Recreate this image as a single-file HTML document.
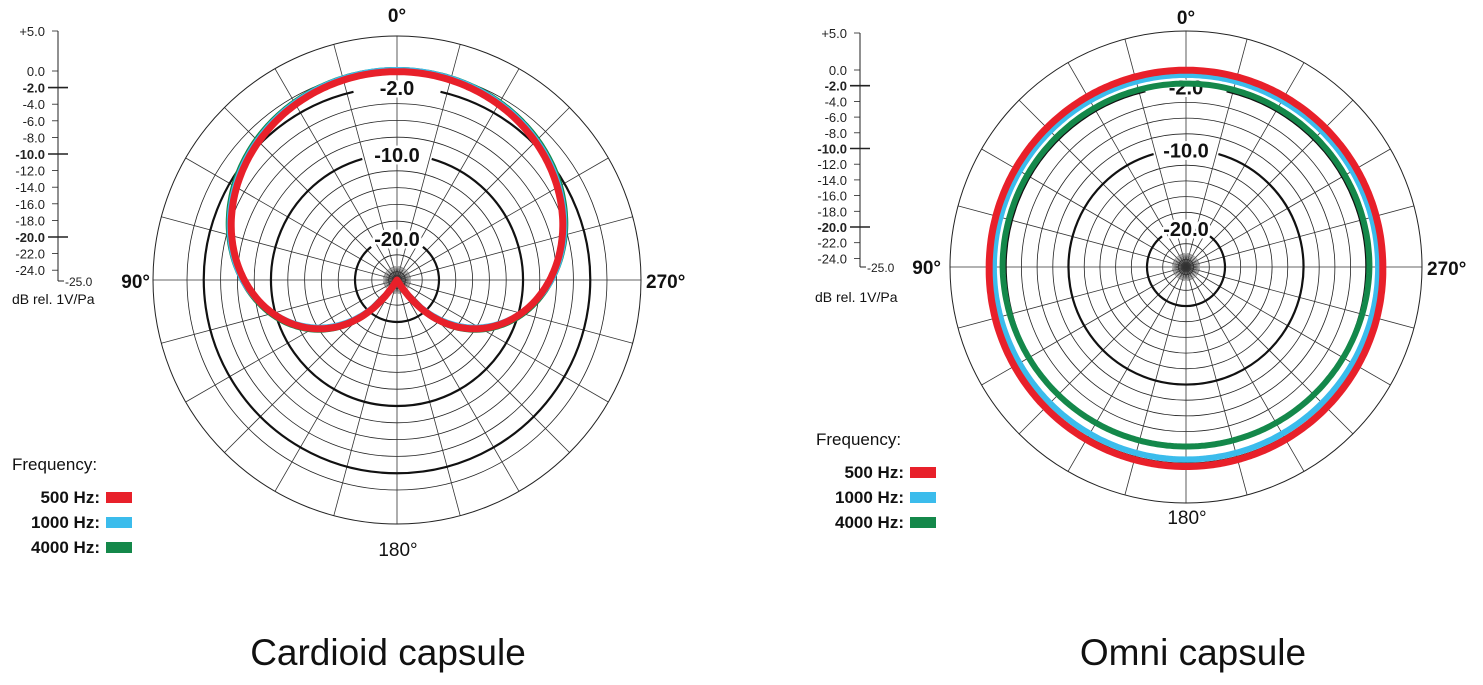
<!DOCTYPE html>
<html><head><meta charset="utf-8">
<style>
html,body{margin:0;padding:0;background:#fff;}
svg{display:block;font-family:"Liberation Sans",sans-serif;}
</style></head><body>
<svg id="s" width="1483" height="685" viewBox="0 0 1483 685" xmlns="http://www.w3.org/2000/svg"></svg>
<script>
var S=document.getElementById('s');var out='';
function polar(cx,cy,r0,k,outerR){
  var f=function(db){return r0+k*db;};
  var o='';
  for(var d=-4;d>=-24;d-=2){ if(d==-10||d==-20) continue;
    o+='<circle cx="'+cx+'" cy="'+cy+'" r="'+f(d).toFixed(1)+'" fill="none" stroke="#222" stroke-width="0.8"/>';}
  o+='<circle cx="'+cx+'" cy="'+cy+'" r="'+f(0).toFixed(1)+'" fill="none" stroke="#222" stroke-width="0.8"/>';
  o+='<circle cx="'+cx+'" cy="'+cy+'" r="2.5" fill="#666"/>';
  for(var a=0;a<360;a+=5){var rad=a*Math.PI/180;var full=(a%15==0);
    var re=full?outerR:14;
    o+='<line x1="'+cx+'" y1="'+cy+'" x2="'+(cx+re*Math.sin(rad)).toFixed(1)+'" y2="'+(cy-re*Math.cos(rad)).toFixed(1)+'" stroke="#333" stroke-width="'+(full?0.8:0.5)+'"/>';}
  o+='<circle cx="'+cx+'" cy="'+cy+'" r="6" fill="none" stroke="#555" stroke-width="0.6"/>';
  o+='<circle cx="'+cx+'" cy="'+cy+'" r="'+outerR+'" fill="none" stroke="#222" stroke-width="1"/>';
  [[-2,13],[-10,16],[-20,38]].forEach(function(p){var r=f(p[0]);var g=p[1]*Math.PI/180;
    var x1=cx+r*Math.sin(g),y1=cy-r*Math.cos(g),x2=cx-r*Math.sin(g),y2=y1;
    o+='<path d="M'+x1.toFixed(1)+' '+y1.toFixed(1)+' A'+r+' '+r+' 0 1 1 '+x2.toFixed(1)+' '+y2.toFixed(1)+'" fill="none" stroke="#111" stroke-width="2.2"/>';
    o+='<text x="'+cx+'" y="'+(cy-r+8)+'" font-size="20" font-weight="bold" text-anchor="middle" fill="#111" stroke="#fff" stroke-width="5" paint-order="stroke">'+p[0].toFixed(1)+'</text>';
  });
  return o;
}
function curve(cx,cy,r0,k,fn,col,w){
  var pts=[];for(var a=0;a<=360;a+=1){var rad=a*Math.PI/180;var db=Math.max(-25,fn(rad));var r=Math.max(0,r0+k*db);
    pts.push((cx-r*Math.sin(rad)).toFixed(1)+','+(cy-r*Math.cos(rad)).toFixed(1));}
  return '<polyline points="'+pts.join(' ')+'" fill="none" stroke="'+col+'" stroke-width="'+w+'" stroke-linejoin="round"/>';
}
function card(off){return function(t){var g=(1+Math.cos(t))/2;var d=20*Math.log10(Math.max(g,1e-4));return d*1.1+off*Math.max(0,-Math.cos(t));};}
var L={cx:397,cy:280,r0:210,k:8.4};
out+=polar(L.cx,L.cy,L.r0,L.k,244);
out+=curve(L.cx,L.cy,L.r0,L.k,function(t){return card(0)(t)+0.4*Math.max(0,Math.cos(t))*Math.sin(t)*Math.sin(t);},'#14884a',6);
out+=curve(L.cx,L.cy,L.r0,L.k,card(-0.9),'#3bbcec',6);
out+=curve(L.cx,L.cy,L.r0,L.k,function(t){return card(0)(t)-0.2;},'#e8202a',7);
var R={cx:1186,cy:267,r0:196,k:7.85};
out+=polar(R.cx,R.cy,R.r0,R.k,236);
out+=curve(R.cx,R.cy,R.r0,R.k,function(t){return -1.6-0.5*Math.max(0,-Math.cos(t));},'#14884a',6);
out+=curve(R.cx,R.cy,R.r0,R.k,function(t){return -0.5+0.05*Math.max(0,-Math.cos(t));},'#3bbcec',6);
out+=curve(R.cx,R.cy,R.r0,R.k,function(t){return 0.1+0.35*Math.max(0,-Math.cos(t));},'#e8202a',7);
function scale(ax,topY,zeroY,step,endY,lblX){
  var o='<line x1="'+ax+'" y1="'+topY+'" x2="'+ax+'" y2="'+endY+'" stroke="#222" stroke-width="1"/>';
  o+='<line x1="'+ax+'" y1="'+endY+'" x2="'+(ax+6)+'" y2="'+endY+'" stroke="#222" stroke-width="1"/>';
  o+='<text x="'+(ax+7)+'" y="'+(endY+5)+'" font-size="12" fill="#222">-25.0</text>';
  function lab(y,t,b){o+='<line x1="'+(ax-(b?10:6))+'" y1="'+y+'" x2="'+(ax+(b?10:0))+'" y2="'+y+'" stroke="#222" stroke-width="'+(b?1.6:0.8)+'"/>';
    o+='<text x="'+lblX+'" y="'+(y+5)+'" font-size="13" text-anchor="end" fill="#222"'+(b?' font-weight="bold"':'')+'>'+t+'</text>';}
  lab(topY,'+5.0',false);lab(zeroY,'0.0',false);
  for(var d=-2;d>=-24;d-=2){lab(zeroY+(-d)*step,d.toFixed(1),d==-2||d==-10||d==-20);}
  return o;
}
out+=scale(58,31,71,8.3,281,45);
out+=scale(860,33,70,7.85,267,847);
function T(x,y,t,sz,extra){out+='<text x="'+x+'" y="'+y+'" font-size="'+sz+'" fill="#111" '+(extra||'')+'>'+t+'</text>';}
T(397,22,'0°',19,'text-anchor="middle" font-weight="bold"');
T(150,288,'90°',19,'text-anchor="end" font-weight="bold"');
T(646,288,'270°',19,'font-weight="bold"');
T(398,556,'180°',19,'text-anchor="middle"');
T(12,304,'dB rel. 1V/Pa',14,'');
T(1186,24,'0°',19,'text-anchor="middle" font-weight="bold"');
T(941,274,'90°',19,'text-anchor="end" font-weight="bold"');
T(1427,275,'270°',19,'font-weight="bold"');
T(1187,524,'180°',19,'text-anchor="middle"');
T(815,302,'dB rel. 1V/Pa',14,'');
function legend(x,y){
  T(x,y,'Frequency:',17,'fill="#222"');
  var c=['#e8202a','#3bbcec','#14884a'],l=['500 Hz:','1000 Hz:','4000 Hz:'];
  for(var i=0;i<3;i++){var yy=y+33+i*25;T(x+88,yy,l[i],17,'text-anchor="end" font-weight="bold" fill="#111"');
    out+='<rect x="'+(x+94)+'" y="'+(yy-11)+'" width="26" height="11" fill="'+c[i]+'"/>';}
}
legend(12,470);
legend(816,445);
T(388,665,'Cardioid capsule',37,'text-anchor="middle" fill="#333"');
T(1193,665,'Omni capsule',37,'text-anchor="middle" fill="#333"');
S.innerHTML=out;
</script>
</body></html>
